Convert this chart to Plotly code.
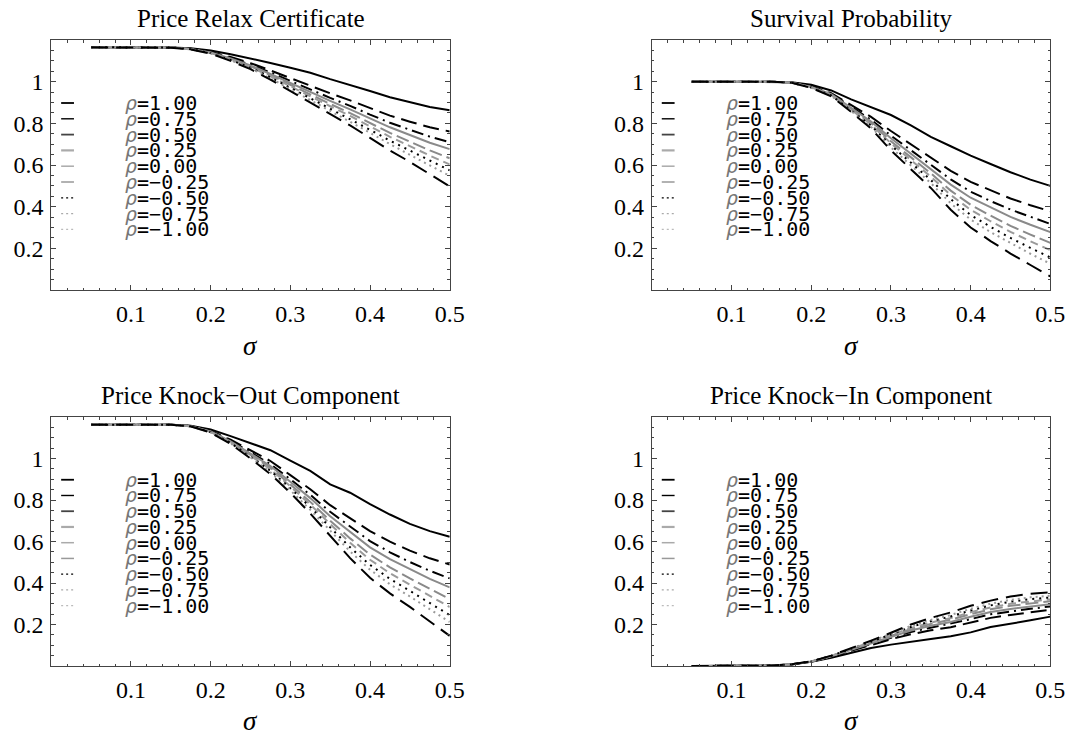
import plotly.graph_objects as go

# ---------------- data ----------------
sigma = [0.05, 0.1, 0.15, 0.175, 0.2, 0.225, 0.25, 0.275, 0.3, 0.325,
         0.35, 0.375, 0.4, 0.425, 0.45, 0.475, 0.5]
rho_labels = ["1.00", "0.75", "0.50", "0.25", "0.00", "−0.25", "−0.50", "−0.75", "−1.00"]
panel_titles = ["Price Relax Certificate", "Survival Probability",
                "Price Knock−Out Component", "Price Knock−In Component"]
x_tick_vals = [0.1, 0.2, 0.3, 0.4, 0.5]
x_tick_text = ["0.1", "0.2", "0.3", "0.4", "0.5"]
y_tick_vals = [0.2, 0.4, 0.6, 0.8, 1.0]
y_tick_text = ["0.2", "0.4", "0.6", "0.8", "1"]

# Price Relax Certificate, rows rho = 1.00 ... -1.00
relax_values = [
    [1.165, 1.165, 1.164, 1.160, 1.150, 1.132, 1.112, 1.090, 1.067, 1.043, 1.012, 0.985, 0.955, 0.925, 0.900, 0.878, 0.863],
    [1.165, 1.165, 1.164, 1.158, 1.143, 1.118, 1.089, 1.054, 1.017, 0.982, 0.944, 0.910, 0.873, 0.837, 0.808, 0.781, 0.761],
    [1.165, 1.165, 1.164, 1.157, 1.141, 1.113, 1.082, 1.044, 1.002, 0.963, 0.922, 0.884, 0.842, 0.803, 0.769, 0.736, 0.709],
    [1.165, 1.165, 1.164, 1.157, 1.140, 1.111, 1.078, 1.037, 0.993, 0.951, 0.908, 0.867, 0.823, 0.781, 0.744, 0.707, 0.676],
    [1.165, 1.165, 1.164, 1.156, 1.139, 1.108, 1.074, 1.031, 0.984, 0.939, 0.893, 0.849, 0.801, 0.754, 0.712, 0.670, 0.632],
    [1.165, 1.165, 1.164, 1.156, 1.138, 1.106, 1.070, 1.026, 0.977, 0.930, 0.882, 0.836, 0.785, 0.735, 0.691, 0.645, 0.603],
    [1.165, 1.165, 1.164, 1.156, 1.137, 1.104, 1.067, 1.021, 0.971, 0.921, 0.871, 0.822, 0.769, 0.717, 0.670, 0.620, 0.574],
    [1.165, 1.165, 1.164, 1.155, 1.136, 1.103, 1.064, 1.016, 0.964, 0.912, 0.861, 0.810, 0.755, 0.700, 0.651, 0.598, 0.548],
    [1.165, 1.165, 1.163, 1.155, 1.135, 1.100, 1.060, 1.010, 0.955, 0.900, 0.845, 0.790, 0.730, 0.670, 0.615, 0.555, 0.497],
]

# Survival Probability
survival_values = [
    [1.0, 1.0, 1.0, 0.997, 0.985, 0.958, 0.915, 0.876, 0.840, 0.790, 0.735, 0.690, 0.645, 0.605, 0.565, 0.530, 0.500],
    [1.0, 1.0, 1.0, 0.996, 0.978, 0.945, 0.888, 0.831, 0.763, 0.700, 0.635, 0.572, 0.519, 0.478, 0.439, 0.407, 0.378],
    [1.0, 1.0, 1.0, 0.996, 0.976, 0.942, 0.880, 0.817, 0.741, 0.672, 0.603, 0.531, 0.472, 0.427, 0.386, 0.350, 0.317],
    [1.0, 1.0, 1.0, 0.996, 0.975, 0.940, 0.875, 0.809, 0.728, 0.655, 0.582, 0.506, 0.443, 0.396, 0.351, 0.313, 0.278],
    [1.0, 1.0, 1.0, 0.996, 0.974, 0.937, 0.871, 0.801, 0.714, 0.638, 0.560, 0.477, 0.409, 0.357, 0.308, 0.266, 0.226],
    [1.0, 1.0, 1.0, 0.995, 0.973, 0.936, 0.867, 0.795, 0.704, 0.624, 0.544, 0.456, 0.385, 0.330, 0.279, 0.234, 0.191],
    [1.0, 1.0, 1.0, 0.995, 0.972, 0.934, 0.863, 0.789, 0.694, 0.611, 0.528, 0.436, 0.360, 0.303, 0.250, 0.202, 0.156],
    [1.0, 1.0, 1.0, 0.995, 0.971, 0.932, 0.860, 0.783, 0.684, 0.598, 0.513, 0.416, 0.338, 0.278, 0.224, 0.174, 0.126],
    [1.0, 1.0, 1.0, 0.995, 0.970, 0.930, 0.855, 0.775, 0.670, 0.580, 0.490, 0.385, 0.300, 0.235, 0.175, 0.120, 0.065],
]

# Price Knock-Out Component
knockout_values = [
    [1.163, 1.163, 1.163, 1.158, 1.140, 1.108, 1.075, 1.040, 0.990, 0.940, 0.875, 0.835, 0.780, 0.730, 0.685, 0.650, 0.623],
    [1.163, 1.163, 1.163, 1.157, 1.133, 1.091, 1.041, 0.988, 0.920, 0.852, 0.775, 0.713, 0.650, 0.599, 0.556, 0.519, 0.489],
    [1.163, 1.163, 1.163, 1.156, 1.131, 1.086, 1.031, 0.973, 0.900, 0.825, 0.743, 0.671, 0.602, 0.548, 0.501, 0.459, 0.422],
    [1.163, 1.163, 1.163, 1.156, 1.130, 1.083, 1.025, 0.964, 0.888, 0.809, 0.722, 0.645, 0.572, 0.515, 0.466, 0.420, 0.379],
    [1.163, 1.163, 1.163, 1.156, 1.129, 1.080, 1.019, 0.955, 0.875, 0.791, 0.700, 0.615, 0.537, 0.475, 0.422, 0.370, 0.322],
    [1.163, 1.163, 1.163, 1.155, 1.128, 1.078, 1.015, 0.948, 0.866, 0.778, 0.684, 0.594, 0.512, 0.447, 0.392, 0.336, 0.284],
    [1.163, 1.163, 1.163, 1.155, 1.127, 1.075, 1.010, 0.941, 0.857, 0.766, 0.668, 0.572, 0.487, 0.420, 0.362, 0.302, 0.245],
    [1.163, 1.163, 1.163, 1.155, 1.126, 1.073, 1.006, 0.934, 0.847, 0.753, 0.653, 0.552, 0.464, 0.394, 0.335, 0.272, 0.212],
    [1.163, 1.163, 1.163, 1.155, 1.125, 1.070, 1.000, 0.925, 0.835, 0.735, 0.630, 0.520, 0.425, 0.350, 0.285, 0.215, 0.145],
]

# Price Knock-In Component
knockin_values = [
    [0.0, 0.0, 0.002, 0.007, 0.020, 0.040, 0.065, 0.087, 0.103, 0.118, 0.130, 0.143, 0.162, 0.188, 0.203, 0.220, 0.238],
    [0.0, 0.0, 0.002, 0.007, 0.021, 0.045, 0.074, 0.103, 0.129, 0.153, 0.172, 0.187, 0.209, 0.232, 0.246, 0.259, 0.271],
    [0.0, 0.0, 0.002, 0.008, 0.021, 0.046, 0.077, 0.107, 0.136, 0.164, 0.185, 0.203, 0.226, 0.249, 0.264, 0.276, 0.287],
    [0.0, 0.0, 0.002, 0.008, 0.021, 0.047, 0.078, 0.110, 0.141, 0.171, 0.194, 0.212, 0.237, 0.260, 0.275, 0.288, 0.298],
    [0.0, 0.0, 0.002, 0.008, 0.021, 0.047, 0.080, 0.113, 0.145, 0.178, 0.203, 0.223, 0.250, 0.273, 0.290, 0.302, 0.312],
    [0.0, 0.0, 0.002, 0.008, 0.022, 0.048, 0.081, 0.115, 0.149, 0.183, 0.209, 0.231, 0.259, 0.282, 0.300, 0.312, 0.321],
    [0.0, 0.0, 0.002, 0.008, 0.022, 0.049, 0.082, 0.117, 0.152, 0.188, 0.216, 0.239, 0.268, 0.292, 0.310, 0.322, 0.330],
    [0.0, 0.0, 0.002, 0.008, 0.022, 0.049, 0.083, 0.119, 0.155, 0.193, 0.222, 0.246, 0.276, 0.300, 0.319, 0.331, 0.339],
    [0.0, 0.0, 0.002, 0.008, 0.022, 0.050, 0.085, 0.122, 0.160, 0.200, 0.232, 0.258, 0.290, 0.315, 0.335, 0.348, 0.355],
]

panels = [relax_values, survival_values, knockout_values, knockin_values]

# ---------------- styles ----------------
curve_styles = [
    dict(color="#000000", width=2.0, dash="solid"),
    dict(color="#000000", width=2.0, dash="16px,7px"),
    dict(color="#000000", width=2.0, dash="12px,5px,2px,5px"),
    dict(color="#8a8a8a", width=2.0, dash="solid"),
    dict(color="#8a8a8a", width=2.0, dash="13px,5px"),
    dict(color="#9a9a9a", width=2.0, dash="8px,5px"),
    dict(color="#000000", width=2.0, dash="2px,5px"),
    dict(color="#9a9a9a", width=2.0, dash="2px,4px"),
    dict(color="#000000", width=2.0, dash="17px,8px"),
]
legend_styles = [
    dict(color="#000000", width=1.8, dash="solid"),
    dict(color="#000000", width=1.4, dash="solid"),
    dict(color="#444444", width=1.8, dash="solid"),
    dict(color="#aaaaaa", width=2.2, dash="solid"),
    dict(color="#aaaaaa", width=1.5, dash="solid"),
    dict(color="#999999", width=1.5, dash="solid"),
    dict(color="#000000", width=1.3, dash="2px,3px"),
    dict(color="#aaaaaa", width=1.3, dash="2px,3px"),
    dict(color="#bbbbbb", width=1.3, dash="2px,3px"),
]

W, H = 1090, 736
x_doms = [[52 / W, 456 / W], [661 / W, 1065 / W], [52 / W, 456 / W], [661 / W, 1065 / W]]
y_doms = [[1 - 290 / H, 1 - 40 / H], [1 - 290 / H, 1 - 40 / H],
          [1 - 666 / H, 1 - 417 / H], [1 - 666 / H, 1 - 417 / H]]
title_y_px = [18, 18, 395, 395]
sigma_y_px = [346, 346, 721, 721]

serif = "Liberation Serif, Times New Roman, serif"
mono = "DejaVu Sans Mono, monospace"

fig = go.Figure()
layout = dict(width=W, height=H, margin=dict(l=0, r=0, t=0, b=0),
              paper_bgcolor="white", plot_bgcolor="white", showlegend=False)
annotations = []
shapes = []

for p, values in enumerate(panels):
    sfx = "" if p == 0 else str(p + 1)
    xa, ya = "x" + sfx, "y" + sfx
    for k, row in enumerate(values):
        fig.add_trace(go.Scatter(x=sigma, y=row, mode="lines", xaxis=xa, yaxis=ya,
                                 line=curve_styles[k], hoverinfo="skip"))
    common = dict(showgrid=False, zeroline=False, showline=True, linecolor="#444444",
                  linewidth=1, mirror="allticks", ticks="inside", ticklen=5,
                  tickcolor="#444444", tickwidth=1,
                  tickfont=dict(family=serif, size=24, color="black"))
    layout["xaxis" + sfx] = dict(common, domain=x_doms[p], anchor=ya, range=[0, 0.5],
                                 tickvals=x_tick_vals, ticktext=x_tick_text,
                                 ticklabelstandoff=2,
                                 minor=dict(dtick=0.02, tick0=0, ticks="inside", ticklen=2.5,
                                            tickcolor="#444444", showgrid=False))
    layout["yaxis" + sfx] = dict(common, domain=y_doms[p], anchor=xa, range=[0, 1.2],
                                 tickvals=y_tick_vals, ticktext=y_tick_text,
                                 ticklabelstandoff=2,
                                 minor=dict(dtick=0.05, tick0=0, ticks="inside", ticklen=2.5,
                                            tickcolor="#444444", showgrid=False))
    cx = (x_doms[p][0] + x_doms[p][1]) / 2
    annotations.append(dict(text=panel_titles[p], xref="paper", yref="paper", x=cx,
                            y=1 - title_y_px[p] / H, xanchor="center", yanchor="middle",
                            showarrow=False, font=dict(family=serif, size=25, color="black")))
    annotations.append(dict(text="<i>σ</i>", xref="paper", yref="paper", x=cx,
                            y=1 - sigma_y_px[p] / H, xanchor="center", yanchor="middle",
                            showarrow=False, font=dict(family=serif, size=27, color="black")))
    # in-plot legend
    for k, lab in enumerate(rho_labels):
        yy = 1 - (63 + 15.8 * k) / 250
        shapes.append(dict(type="line", xref=xa + " domain", yref=ya + " domain",
                           x0=10 / 404, x1=23 / 404, y0=yy, y1=yy, line=legend_styles[k]))
        annotations.append(dict(text="<i><span style='color:#777777'>ρ</span></i>=" + lab,
                                xref=xa + " domain", yref=ya + " domain",
                                x=73 / 404, y=yy, xanchor="left", yanchor="middle",
                                showarrow=False,
                                font=dict(family=mono, size=20, color="black")))

layout["annotations"] = annotations
layout["shapes"] = shapes
fig.update_layout(**layout)
fig.write_html("out.html", config={"displayModeBar": False},
               post_script="document.body.style.margin='0';document.body.style.padding='0';")
